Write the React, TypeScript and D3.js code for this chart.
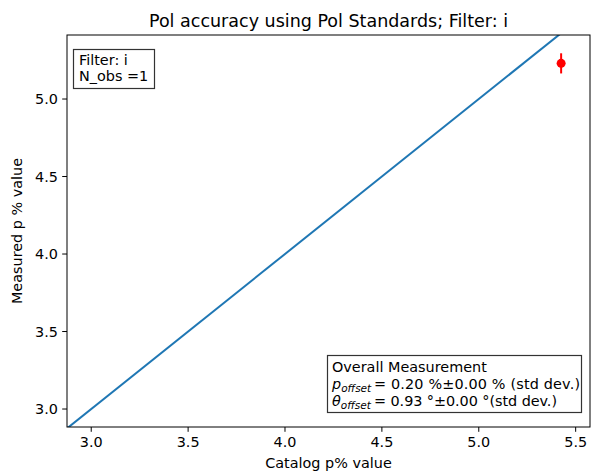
import React from "react";
import * as d3 from "d3";

const catalogP = [5.425];
const measuredP = [5.23];
const measuredErr = [0.065];
const lineRange = [2.8, 5.6];
const xTicks = [3.0, 3.5, 4.0, 4.5, 5.0, 5.5];
const yTicks = [3.0, 3.5, 4.0, 4.5, 5.0];
const filterLines = ["Filter: i", "N_obs =1"];

export default function App() {
  const width = 591;
  const height = 473;
  const m = { left: 67, right: 1, top: 35, bottom: 46 };
  const x = d3.scaleLinear().domain([2.875, 5.574]).range([m.left, width - m.right]);
  const y = d3.scaleLinear().domain([2.884, 5.413]).range([height - m.bottom, m.top]);
  const font = "DejaVu Sans, sans-serif";
  const line = d3.line<number>().x((d) => x(d)).y((d) => y(d));
  const fs = 14.4;

  return (
    <svg width={width} height={height} style={{ position: "absolute", left: 0, top: 0 }} fontFamily={font}>
      <rect width={width} height={height} fill="white" />
      <defs>
        <clipPath id="plot">
          <rect x={m.left} y={m.top} width={width - m.left - m.right} height={height - m.top - m.bottom} />
        </clipPath>
      </defs>
      <text x={(m.left + width - m.right) / 2} y={27} textAnchor="middle" fontSize={17.5}>
        Pol accuracy using Pol Standards; Filter: i
      </text>
      <g clipPath="url(#plot)">
        <path d={line(lineRange) || ""} stroke="#1f77b4" strokeWidth={2} fill="none" />
        {catalogP.map((c, i) => (
          <g key={i}>
            <line x1={x(c)} x2={x(c)} y1={y(measuredP[i] - measuredErr[i])} y2={y(measuredP[i] + measuredErr[i])} stroke="red" strokeWidth={2} />
            <circle cx={x(c)} cy={y(measuredP[i])} r={4.5} fill="red" />
          </g>
        ))}
      </g>
      <rect x={m.left} y={m.top} width={width - m.left - m.right} height={height - m.top - m.bottom} fill="none" stroke="black" strokeWidth={1} />
      {xTicks.map((t) => (
        <g key={t} transform={`translate(${x(t)},${height - m.bottom})`}>
          <line y2={4.8} stroke="black" />
          <text y={20} textAnchor="middle" fontSize={fs}>{t.toFixed(1)}</text>
        </g>
      ))}
      {yTicks.map((t) => (
        <g key={t} transform={`translate(${m.left},${y(t)})`}>
          <line x2={-4.8} stroke="black" />
          <text x={-9} dy="0.36em" textAnchor="end" fontSize={fs}>{t.toFixed(1)}</text>
        </g>
      ))}
      <text x={(m.left + width - m.right) / 2} y={468} textAnchor="middle" fontSize={fs}>Catalog p% value</text>
      <text transform={`translate(22,${(m.top + height - m.bottom) / 2}) rotate(-90)`} textAnchor="middle" fontSize={fs}>Measured p % value</text>
      <rect x={73.5} y={49.5} width={81} height={39} fill="white" stroke="#333" strokeWidth={1.2} />
      {filterLines.map((s, i) => (
        <text key={s} x={79} y={65 + i * 16} fontSize={fs}>{s}</text>
      ))}
      <rect x={327.5} y={355.5} width={254} height={57} fill="white" stroke="#333" strokeWidth={1.2} />
      <text x={332} y={372} fontSize={fs}>Overall Measurement</text>
      <text x={332} y={389} fontSize={fs}>
        <tspan fontStyle="italic">p</tspan>
        <tspan fontStyle="italic" fontSize={10.5} dy={3}>offset</tspan>
      </text>
      <text x={374} y={389} fontSize={fs} textLength={206} lengthAdjust="spacing">= 0.20 %±0.00 % (std dev.)</text>
      <text x={332} y={406} fontSize={fs}>
        <tspan fontStyle="italic">θ</tspan>
        <tspan fontStyle="italic" fontSize={10.5} dy={3}>offset</tspan>
      </text>
      <text x={374} y={406} fontSize={fs} textLength={183} lengthAdjust="spacing">= 0.93 °±0.00 °(std dev.)</text>
    </svg>
  );
}
